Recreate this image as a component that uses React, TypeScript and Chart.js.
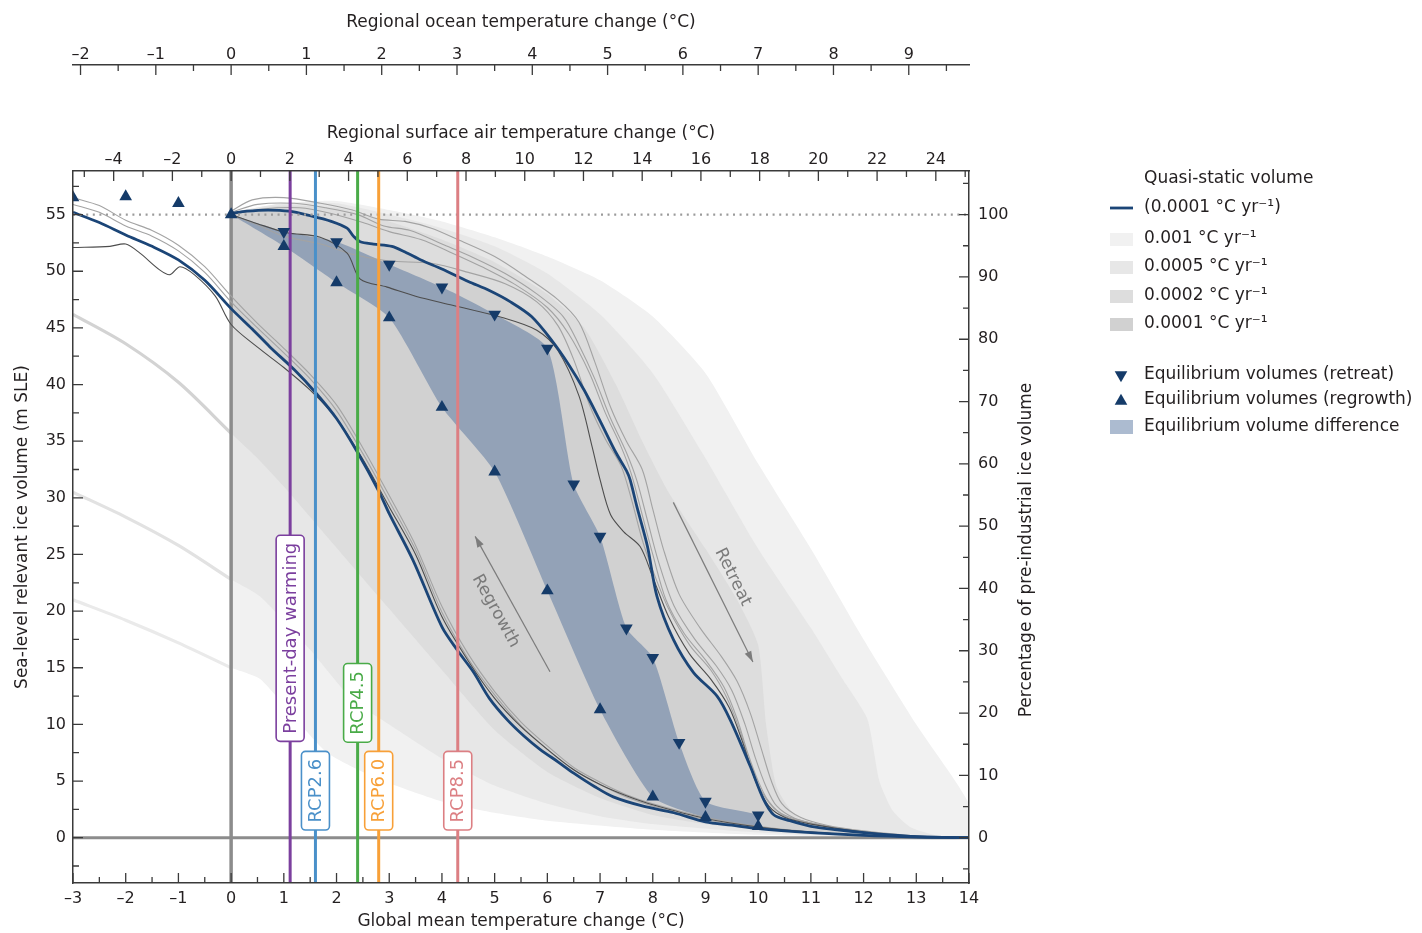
import React, { useEffect, useRef } from 'react';
import { Chart, registerables } from 'chart.js';

Chart.register(...registerables);

type P = [number, number];

const FONT = "'DejaVu Sans', 'Liberation Sans', Arial, sans-serif";
const INK = '#231f20';
const AXIS = '#3a3a3a';
const BLUE = '#1b4577';
const NAVY = '#153b69';

// ---------- tick labels ----------
const globalTicks = [-3, -2, -1, 0, 1, 2, 3, 4, 5, 6, 7, 8, 9, 10, 11, 12, 13, 14];
const airTicks = [-4, -2, 0, 2, 4, 6, 8, 10, 12, 14, 16, 18, 20, 22, 24];
const oceanTicks = [-2, -1, 0, 1, 2, 3, 4, 5, 6, 7, 8, 9];
const volumeTicks = [0, 5, 10, 15, 20, 25, 30, 35, 40, 45, 50, 55];
const percentTicks = [0, 10, 20, 30, 40, 50, 60, 70, 80, 90, 100];

const AIR_PER_GLOBAL = 1.795;
const OCEAN_PER_GLOBAL = 0.7;
const PRE_INDUSTRIAL_VOLUME = 55;
const X_MIN = -3, X_MAX = 14, Y_MIN = -4, Y_MAX = 58.85;

// ---------- scenarios ----------
const scenarioNames = ['Present-day warming', 'RCP2.6', 'RCP4.5', 'RCP6.0', 'RCP8.5'];
const scenarioTemps = [1.12, 1.6, 2.4, 2.8, 4.3];
const scenarioColors = ['#7b3f9e', '#4a90c9', '#4aab48', '#f8a038', '#dc7f83'];

// ---------- warming rates (legend / envelopes) ----------
const rateLabels = ['0.001', '0.0005', '0.0002', '0.0001'];
const rateColors = ['#f1f1f1', '#e7e7e7', '#dddddd', '#d1d1d1'];

// ---------- quasi-static volume, 0.0001 °C/yr ----------
const retreatQuasiStatic: P[] = [
  [0, 55.1], [0.3, 55.3], [0.7, 55.4], [1.1, 55.3], [1.5, 54.9], [1.9, 54.4], [2.2, 53.8], [2.32, 53.1],
  [2.45, 52.6], [2.7, 52.4], [3.05, 52.2], [3.3, 51.7], [3.6, 51.0], [4.0, 50.2], [4.5, 49.1], [4.9, 48.3],
  [5.3, 47.3], [5.7, 46.0], [6.1, 43.8], [6.4, 41.8], [6.7, 39.5], [7.0, 36.8], [7.3, 34.0], [7.5, 32.4],
  [7.57, 31.6], [7.7, 29.2], [7.9, 25.7], [8.08, 21.3], [8.39, 17.5], [8.77, 14.6], [9.22, 12.5], [9.47, 10.4],
  [9.85, 6.3], [10.1, 3.4], [10.3, 2.0], [10.6, 1.5], [11.0, 1.0], [11.5, 0.7], [12.0, 0.45], [12.5, 0.25],
  [13.0, 0.1], [13.5, 0.03], [14.0, 0],
];
const regrowthQuasiStatic: P[] = [
  [-3, 55.2], [-2.5, 54.3], [-2, 53.2], [-1.5, 52.2], [-1, 51.0], [-0.5, 49.2], [0, 46.7], [0.4, 44.9],
  [0.74, 43.3], [1.2, 41.3], [1.6, 39.3], [2.0, 37.0], [2.4, 34.0], [2.8, 30.6], [3.0, 28.6], [3.45, 24.5],
  [4.0, 18.6], [4.3, 16.5], [4.6, 14.6], [4.9, 12.3], [5.24, 10.4], [5.55, 9.0], [5.86, 7.8], [6.2, 6.7],
  [6.5, 5.7], [6.9, 4.5], [7.25, 3.6], [7.8, 2.8], [8.4, 2.2], [9.0, 1.4], [9.5, 1.1], [10, 0.8],
  [11, 0.45], [12, 0.2], [13, 0.06], [14, 0],
];

// ---------- individual ensemble members ----------
const retreatDark: P[] = [
  [0, 55.0], [0.5, 54.2], [1.06, 53.4], [1.69, 53.0], [2.2, 51.6], [2.45, 49.3], [2.96, 48.6], [3.5, 47.8],
  [4.2, 47.0], [5.16, 45.9], [5.8, 44.8], [6.2, 43.0], [6.6, 39.0], [6.85, 34.5], [7.0, 31.6], [7.2, 28.5],
  [7.45, 27.0], [7.76, 25.7], [8.0, 23.0], [8.3, 19.5], [8.7, 16.2], [9.1, 14.0], [9.45, 11.5], [9.7, 8.5],
  [9.95, 5.0], [10.2, 2.8], [10.5, 1.8], [11, 1.2], [12, 0.5], [13, 0.1], [14, 0],
];
const retreatMemberA: P[] = [
  [0, 55.3], [0.4, 56.3], [1.0, 56.5], [1.7, 56.0], [2.3, 55.4], [2.8, 54.6], [3.3, 54.4], [3.8, 53.8],
  [4.3, 52.8], [5.0, 51.3], [5.6, 49.5], [6.2, 47.5], [6.6, 45.5], [6.9, 42.0], [7.2, 38.0], [7.5, 35.0],
  [7.8, 32.5], [8.0, 29.0], [8.2, 25.5], [8.5, 21.5], [8.9, 18.5], [9.3, 16.0], [9.6, 13.8], [9.85, 11.0],
  [10.05, 8.0], [10.25, 5.0], [10.45, 3.0], [10.8, 1.8], [11.3, 1.1], [12, 0.6], [13, 0.15], [14, 0],
];
const retreatMemberB: P[] = [
  [0, 55.2], [0.5, 55.9], [1.2, 56.0], [1.8, 55.6], [2.4, 55.0], [2.9, 54.0], [3.4, 53.6], [4.0, 52.4],
  [4.6, 51.2], [5.2, 49.8], [5.8, 48.0], [6.3, 46.0], [6.6, 43.5], [6.9, 40.5], [7.2, 37.0], [7.5, 34.0],
  [7.7, 31.5], [7.9, 28.0], [8.1, 24.5], [8.4, 20.5], [8.8, 17.5], [9.2, 15.2], [9.5, 13.0], [9.75, 10.0],
  [9.95, 7.0], [10.15, 4.5], [10.35, 2.8], [10.7, 1.7], [11.2, 1.1], [12, 0.55], [13, 0.12], [14, 0],
];
const retreatMemberC: P[] = [
  [0, 55.0], [0.6, 55.5], [1.3, 55.6], [1.9, 55.1], [2.5, 54.3], [3.0, 53.5], [3.6, 52.8], [4.2, 51.6],
  [4.8, 50.3], [5.4, 48.8], [6.0, 46.8], [6.4, 44.5], [6.8, 41.0], [7.1, 37.5], [7.4, 34.5], [7.6, 32.0],
  [7.8, 28.5], [8.0, 25.0], [8.25, 21.0], [8.6, 18.0], [9.0, 15.7], [9.35, 13.3], [9.6, 10.5], [9.8, 7.5],
  [10.0, 5.0], [10.2, 3.2], [10.5, 1.9], [11.1, 1.2], [12, 0.5], [13, 0.1], [14, 0],
];
const retreatMemberD: P[] = [
  [0, 55.0], [0.5, 54.1], [1.0, 53.1], [1.7, 52.4], [2.3, 51.5], [3.0, 50.9], [3.8, 50.7], [4.5, 49.9],
  [5.2, 48.9], [5.8, 47.3], [6.2, 45.2], [6.5, 42.2], [6.8, 38.2], [7.1, 35.2], [7.4, 32.8], [7.6, 29.8],
  [7.8, 26.3], [8.0, 23.6], [8.3, 20.2], [8.7, 17.0], [9.1, 14.8], [9.4, 12.4], [9.65, 9.5], [9.85, 6.5],
  [10.05, 4.2], [10.3, 2.6], [10.6, 1.8], [11.2, 1.1], [12, 0.5], [13, 0.1], [14, 0],
];
const regrowthDark: P[] = [
  [-3, 52.1], [-2.3, 52.2], [-2.0, 52.4], [-1.73, 51.6], [-1.35, 50.1], [-1.16, 49.7], [-0.97, 50.4],
  [-0.7, 49.7], [-0.3, 47.8], [0, 45.3], [0.5, 43.3], [1, 41.5], [1.5, 39.5], [2, 37.0], [2.5, 33.4],
  [3, 29.2], [3.5, 25.0], [4, 19.5], [4.5, 15.6], [5, 12.3], [5.5, 9.8], [6, 7.8], [6.5, 6.0], [7, 4.7],
  [7.5, 3.7], [8, 2.9], [9, 1.7], [10, 0.95], [11, 0.5], [12, 0.22], [13, 0.06], [14, 0],
];
const regrowthMemberA: P[] = [
  [-3, 56.5], [-2.5, 55.8], [-2, 54.5], [-1.5, 53.6], [-1, 52.3], [-0.5, 50.4], [0, 47.8], [0.5, 45.4],
  [1, 43.2], [1.5, 40.9], [2, 38.2], [2.5, 34.4], [3, 30.2], [3.5, 25.8], [4, 20.4], [4.5, 16.2], [5, 12.9],
  [5.5, 10.2], [6, 8.1], [6.5, 6.2], [7, 4.9], [7.5, 3.8], [8, 3.0], [9, 1.8], [10, 1.0], [11, 0.5],
  [12, 0.22], [13, 0.06], [14, 0],
];
const regrowthMemberB: P[] = [
  [-3, 55.9], [-2.5, 55.2], [-2, 54.0], [-1.5, 53.1], [-1, 51.8], [-0.5, 49.9], [0, 47.3], [0.5, 45.0],
  [1, 42.8], [1.5, 40.5], [2, 37.7], [2.5, 33.9], [3, 29.7], [3.5, 25.4], [4, 19.9], [4.5, 15.8], [5, 12.6],
  [5.5, 9.9], [6, 7.8], [6.5, 6.0], [7, 4.7], [7.5, 3.6], [8, 2.8], [9, 1.6], [10, 0.9], [11, 0.47],
  [12, 0.2], [13, 0.05], [14, 0],
];

// ---------- envelopes of faster warming / cooling rates ----------
const retreatRate001: P[] = [
  [0, 55.2], [1, 56], [2, 56.2], [3, 55.4], [4, 54.4], [5, 53], [6, 51.3], [7, 49.2], [8, 46], [9, 41],
  [10, 33], [11, 25.5], [12, 17.5], [13, 10], [14, 3],
];
const regrowthRate001: P[] = [
  [-3, 21], [-2, 19.2], [-1, 17.2], [0, 15.0], [0.55, 14], [1.2, 10.6], [1.82, 7.5], [2.5, 5.8], [3, 4.8],
  [4, 3.2], [5, 2.2], [6, 1.5], [8, 0.7], [10, 0.25], [12, 0.06], [14, 0],
];
const retreatRate0005: P[] = [
  [0, 55.2], [1, 56], [2, 56], [3, 55], [4, 53.8], [5, 52.2], [6, 49.8], [7, 46.2], [8, 41], [9, 33.5],
  [10, 25.5], [11, 18.5], [11.6, 14], [12.07, 10.5], [12.3, 5], [12.55, 2.4], [12.9, 0.9], [13.4, 0.2], [14, 0],
];
const regrowthRate0005: P[] = [
  [-3, 30.5], [-2, 28.3], [-1, 25.8], [0, 22.8], [0.55, 21.3], [1.5, 16.6], [2.3, 12.2], [3, 10], [4, 7.0],
  [5, 4.6], [6, 3.0], [7, 1.9], [8, 1.2], [10, 0.45], [12, 0.1], [14, 0],
];
const retreatRate0002: P[] = [
  [0, 55.2], [1, 55.8], [2, 55.6], [3, 54.4], [4, 52.8], [5, 50.8], [6, 48], [6.7, 45], [7.3, 40], [7.8, 35],
  [8.3, 30.5], [9, 25.5], [9.6, 21], [10, 17], [10.15, 10], [10.35, 4.5], [10.7, 2], [11.3, 1], [12.3, 0.3],
  [13.5, 0],
];
const regrowthRate0002: P[] = [
  [-3, 46.2], [-2, 43.6], [-1, 40.2], [0, 35.7], [0.5, 33.5], [1, 31], [2, 25.6], [3, 20.2], [4, 14.8],
  [5, 9.5], [6, 5.8], [7, 3.5], [8, 2.0], [9, 1.2], [10, 0.7], [12, 0.2], [14, 0],
];

// ---------- equilibrium volumes ----------
const retreatEqTemp = [1, 2, 3, 4, 5, 6, 6.5, 7, 7.5, 8, 8.5, 9, 10];
const retreatEqVolume = [53.5, 52.6, 50.6, 48.6, 46.2, 43.2, 31.2, 26.6, 18.5, 15.9, 8.4, 3.2, 2.0];
const regrowthEqTemp = [-3, -2, -1, 0, 1, 2, 3, 4, 5, 6, 7, 8, 9, 10];
const regrowthEqVolume = [56.5, 56.6, 56.0, 55.0, 52.2, 49.0, 45.9, 38.0, 32.3, 21.8, 11.3, 3.6, 1.8, 1.0];

// ---------- helpers ----------
const xy = (a: P[]) => a.map(([x, y]) => ({ x, y }));
const zip = (xs: number[], ys: number[]): P[] => xs.map((x, i) => [x, ys[i]]);
const fmt = (v: number) => (v < 0 ? '\u2013' + Math.abs(v) : String(v));

const lineDs = (data: P[], color: string, width: number, order: number, extra: any = {}) => ({
  data: xy(data), borderColor: color, borderWidth: width, pointRadius: 0, fill: false,
  tension: 0.3, order, clip: 0, ...extra,
});
const shapeDs = (upper: P[], lower: P[], color: string, order: number) => ({
  data: xy([...upper, ...lower.filter((p) => p[0] >= 0).reverse()]),
  backgroundColor: color, borderColor: 'rgba(0,0,0,0)', borderWidth: 0, pointRadius: 0,
  fill: 'shape', tension: 0.2, order, clip: 0,
});

const equilibriumPolygon: P[] = [[0, 55], ...zip(retreatEqTemp, retreatEqVolume)];
const equilibriumLower: P[] = zip(regrowthEqTemp, regrowthEqVolume);
const TRI_R = 7.3;

const datasets: any[] = [
  // triangles
  {
    data: xy(zip(retreatEqTemp, retreatEqVolume)), showLine: false, pointStyle: 'triangle', pointRotation: 180,
    pointRadius: TRI_R, pointBackgroundColor: NAVY, pointBorderColor: NAVY, pointBorderWidth: 0, order: 0, clip: 0,
  },
  {
    data: xy(zip(regrowthEqTemp, regrowthEqVolume)), showLine: false, pointStyle: 'triangle',
    pointRadius: TRI_R, pointBackgroundColor: NAVY, pointBorderColor: NAVY, pointBorderWidth: 0, order: 0, clip: 0,
  },
  // scenario lines
  ...scenarioTemps.map((t, i) => lineDs([[t, Y_MIN - 5], [t, Y_MAX + 5]], scenarioColors[i], 3, 2, { tension: 0 })),
  // quasi-static
  lineDs(retreatQuasiStatic, BLUE, 2.8, 5),
  lineDs(regrowthQuasiStatic, BLUE, 2.8, 5),
  // pre-industrial dotted reference
  lineDs([[X_MIN, PRE_INDUSTRIAL_VOLUME], [X_MAX, PRE_INDUSTRIAL_VOLUME]], '#9b9b9b', 2.2, 4, { borderDash: [2, 4.6], tension: 0 }),
  // members
  lineDs(retreatDark, '#4d4d4d', 1.1, 6),
  lineDs(regrowthDark, '#4d4d4d', 1.1, 6),
  lineDs(retreatMemberA, '#a3a3a3', 1.1, 7),
  lineDs(retreatMemberB, '#a3a3a3', 1.1, 7),
  lineDs(retreatMemberC, '#a3a3a3', 1.1, 7),
  lineDs(retreatMemberD, '#a3a3a3', 1.1, 7),
  lineDs(regrowthMemberA, '#a3a3a3', 1.1, 7),
  lineDs(regrowthMemberB, '#a3a3a3', 1.1, 7),
  // zero lines
  lineDs([[0, Y_MIN - 5], [0, Y_MAX + 5]], '#8c8c8c', 3.5, 8, { tension: 0 }),
  lineDs([[X_MIN, 0], [X_MAX, 0]], '#8c8c8c', 3, 8, { tension: 0 }),
  // faster rate regrowth curves continued below pre-industrial temperature
  lineDs(regrowthRate0002.filter((p) => p[0] <= 0), '#d3d3d3', 3.2, 8.5),
  lineDs(regrowthRate0005.filter((p) => p[0] <= 0), '#e2e2e2', 3.2, 8.5),
  lineDs(regrowthRate001.filter((p) => p[0] <= 0), '#eaeaea', 3.2, 8.5),
  // equilibrium difference
  shapeDs(equilibriumPolygon, equilibriumLower, 'rgba(70,105,150,0.45)', 9),
  // envelopes
  shapeDs(retreatQuasiStatic, regrowthQuasiStatic, rateColors[3], 10),
  shapeDs(retreatRate0002, regrowthRate0002, rateColors[2], 11),
  shapeDs(retreatRate0005, regrowthRate0005, rateColors[1], 12),
  shapeDs(retreatRate001, regrowthRate001, rateColors[0], 13),
];

// annotation placement (data units)
const scenarioLabelCentre = [17.6, 4.15, 11.9, 4.15, 4.15];
const arrowRegrowth = { from: [6.05, 14.65], to: [4.63, 26.6], text: [5.02, 20.0], label: 'Regrowth' };
const arrowRetreat = { from: [8.39, 29.6], to: [9.9, 15.5], text: [9.52, 23.0], label: 'Retreat' };

function drawTri(ctx: CanvasRenderingContext2D, x: number, y: number, r: number, down: boolean) {
  ctx.beginPath();
  const s = down ? -1 : 1;
  ctx.moveTo(x, y - s * r);
  ctx.lineTo(x + r * 0.866, y + s * r / 2);
  ctx.lineTo(x - r * 0.866, y + s * r / 2);
  ctx.closePath();
  ctx.fill();
}

const decorations = {
  id: 'decorations',
  afterDatasetsDraw(chart: any) {
    const { ctx, scales } = chart;
    const xs = scales.x, ys = scales.y;
    ctx.save();
    // arrows
    [arrowRegrowth, arrowRetreat].forEach((a) => {
      const x1 = xs.getPixelForValue(a.from[0]), y1 = ys.getPixelForValue(a.from[1]);
      const x2 = xs.getPixelForValue(a.to[0]), y2 = ys.getPixelForValue(a.to[1]);
      ctx.strokeStyle = '#7c7c7c'; ctx.fillStyle = '#7c7c7c'; ctx.lineWidth = 1.2;
      ctx.beginPath(); ctx.moveTo(x1, y1); ctx.lineTo(x2, y2); ctx.stroke();
      const ang = Math.atan2(y2 - y1, x2 - x1), L = 11, W = 3.6;
      ctx.beginPath();
      ctx.moveTo(x2, y2);
      ctx.lineTo(x2 - L * Math.cos(ang) + W * Math.sin(ang), y2 - L * Math.sin(ang) - W * Math.cos(ang));
      ctx.lineTo(x2 - L * Math.cos(ang) - W * Math.sin(ang), y2 - L * Math.sin(ang) + W * Math.cos(ang));
      ctx.closePath(); ctx.fill();
      const down = Math.atan2(Math.abs(y2 - y1), Math.abs(x2 - x1));
      ctx.save();
      ctx.translate(xs.getPixelForValue(a.text[0]), ys.getPixelForValue(a.text[1]));
      ctx.rotate(down);
      ctx.font = `17px ${FONT}`;
      ctx.fillStyle = '#7a7a7a'; ctx.textAlign = 'center'; ctx.textBaseline = 'middle';
      ctx.fillText(a.label, 0, 0);
      ctx.restore();
    });
    // scenario labels
    scenarioNames.forEach((name, i) => {
      const px = xs.getPixelForValue(scenarioTemps[i]);
      const py = ys.getPixelForValue(scenarioLabelCentre[i]);
      ctx.font = `18px ${FONT}`;
      const tw = ctx.measureText(name).width;
      const h = tw + 15, w = 28;
      ctx.beginPath();
      ctx.roundRect(px - w / 2, py - h / 2, w, h, 4);
      ctx.fillStyle = '#ffffff'; ctx.fill();
      ctx.strokeStyle = scenarioColors[i]; ctx.lineWidth = 1.6; ctx.stroke();
      ctx.save();
      ctx.translate(px + 1, py);
      ctx.rotate(-Math.PI / 2);
      ctx.fillStyle = scenarioColors[i]; ctx.textAlign = 'center'; ctx.textBaseline = 'middle';
      ctx.fillText(name, 0, 0);
      ctx.restore();
    });
    ctx.restore();
  },
  afterDraw(chart: any) {
    const { ctx, chartArea: ca, scales } = chart;
    ctx.save();
    // inner tick marks
    ctx.strokeStyle = AXIS; ctx.lineWidth = 1.3;
    ctx.beginPath();
    for (let v = X_MIN; v <= X_MAX + 1e-9; v += 0.5) {
      const p = scales.x.getPixelForValue(v); const L = Number.isInteger(v) ? 10 : 6;
      ctx.moveTo(p, ca.bottom); ctx.lineTo(p, ca.bottom - L);
    }
    for (let v = -5; v <= 25; v += 1) {
      const p = scales.xAir.getPixelForValue(v); const L = v % 2 === 0 ? 10 : 6;
      ctx.moveTo(p, ca.top); ctx.lineTo(p, ca.top + L);
    }
    const ob = scales.xOcean.bottom;
    for (let v = -2; v <= 9.5 + 1e-9; v += 0.5) {
      const p = scales.xOcean.getPixelForValue(v); const L = Number.isInteger(v) ? 10 : 6;
      ctx.moveTo(p, ob); ctx.lineTo(p, ob + L);
    }
    for (let v = -2.5; v <= 57.5 + 1e-9; v += 2.5) {
      const p = scales.y.getPixelForValue(v); const L = v % 5 === 0 ? 10 : 6;
      ctx.moveTo(ca.left, p); ctx.lineTo(ca.left + L, p);
    }
    for (let v = -5; v <= 105; v += 5) {
      const p = scales.y2.getPixelForValue(v); const L = v % 10 === 0 ? 10 : 6;
      ctx.moveTo(ca.right, p); ctx.lineTo(ca.right - L, p);
    }
    ctx.stroke();

    // right axis title (reads bottom to top)
    ctx.save();
    ctx.translate(ca.right + 58, (ca.top + ca.bottom) / 2 + 23);
    ctx.rotate(-Math.PI / 2);
    ctx.font = `17px ${FONT}`; ctx.fillStyle = INK; ctx.textAlign = 'center'; ctx.textBaseline = 'middle';
    ctx.fillText('Percentage of pre-industrial ice volume', 0, 0);
    ctx.restore();

    // legend
    const sx = ca.right + 141, tx = ca.right + 175, t0 = ca.top + 2;
    ctx.font = `17px ${FONT}`; ctx.fillStyle = INK; ctx.textAlign = 'left'; ctx.textBaseline = 'middle';
    ctx.fillText('Quasi-static volume', tx, t0 + 6);
    ctx.strokeStyle = BLUE; ctx.lineWidth = 2.8;
    ctx.beginPath(); ctx.moveTo(sx, t0 + 35); ctx.lineTo(sx + 23, t0 + 35); ctx.stroke();
    ctx.fillStyle = INK;
    ctx.fillText('(0.0001 \u00b0C yr\u207b\u00b9)', tx, t0 + 35);
    const rowY = [66, 94, 123, 151];
    rateLabels.forEach((r, i) => {
      ctx.fillStyle = rateColors[i];
      ctx.fillRect(sx, t0 + rowY[i] - 6, 23, 13);
      ctx.fillStyle = INK;
      ctx.fillText(`${r} \u00b0C yr\u207b\u00b9`, tx, t0 + rowY[i]);
    });
    ctx.fillStyle = NAVY;
    drawTri(ctx, sx + 11, t0 + 202, TRI_R, true);
    drawTri(ctx, sx + 11, t0 + 228, TRI_R, false);
    ctx.fillStyle = 'rgba(70,105,150,0.45)';
    ctx.fillRect(sx, t0 + 247, 23, 14);
    ctx.fillStyle = INK;
    ctx.fillText('Equilibrium volumes (retreat)', tx, t0 + 202);
    ctx.fillText('Equilibrium volumes (regrowth)', tx, t0 + 227);
    ctx.fillText('Equilibrium volume difference', tx, t0 + 254);
    ctx.restore();
  },
};

const tickFont = { family: FONT, size: 16 };
const titleFont = { family: FONT, size: 17 };
const border = { display: true, color: AXIS, width: 1.5, z: 1 };
const noGrid = { display: false, drawTicks: false };
const setTicks = (vals: number[]) => (s: any) => { s.ticks = vals.map((v) => ({ value: v })); };

const config: any = {
  type: 'line',
  data: { datasets },
  plugins: [decorations],
  options: {
    animation: false,
    responsive: true,
    maintainAspectRatio: false,
    events: [],
    layout: { padding: { left: 0, right: 333, top: 0, bottom: 0 } },
    plugins: { legend: { display: false }, tooltip: { enabled: false } },
    scales: {
      x: {
        type: 'linear', position: 'bottom', min: X_MIN, max: X_MAX, grid: noGrid, border,
        ticks: { font: tickFont, color: INK, padding: 6, autoSkip: false, maxRotation: 0, callback: fmt },
        afterBuildTicks: setTicks(globalTicks),
        afterFit: (s: any) => { s.height = 50; },
        title: { display: true, text: 'Global mean temperature change (\u00b0C)', font: titleFont, color: INK, padding: { top: 0, bottom: 1 } },
      },
      xAir: {
        type: 'linear', position: 'top', weight: 0,
        min: X_MIN * AIR_PER_GLOBAL, max: X_MAX * AIR_PER_GLOBAL, grid: noGrid, border,
        ticks: { font: tickFont, color: INK, padding: 2, autoSkip: false, maxRotation: 0, callback: fmt },
        afterBuildTicks: setTicks(airTicks),
        afterFit: (s: any) => { s.height = 106; },
        title: { display: true, text: 'Regional surface air temperature change (\u00b0C)', font: titleFont, color: INK, padding: { top: 58, bottom: 0 } },
      },
      xOcean: {
        type: 'linear', position: 'top', weight: 1,
        min: X_MIN * OCEAN_PER_GLOBAL, max: X_MAX * OCEAN_PER_GLOBAL, grid: noGrid,
        border: { display: true, color: AXIS, width: 1.5 },
        ticks: { font: tickFont, color: INK, padding: 1, autoSkip: false, maxRotation: 0, callback: fmt },
        afterBuildTicks: setTicks(oceanTicks),
        afterFit: (s: any) => { s.height = 65; },
        title: { display: true, text: 'Regional ocean temperature change (\u00b0C)', font: titleFont, color: INK, padding: { top: 12, bottom: 0 } },
      },
      y: {
        type: 'linear', position: 'left', min: Y_MIN, max: Y_MAX, grid: noGrid, border,
        ticks: { font: tickFont, color: INK, padding: 7, autoSkip: false, callback: fmt },
        afterBuildTicks: setTicks(volumeTicks),
        afterFit: (s: any) => { s.width = 73; },
        title: { display: true, text: 'Sea-level relevant ice volume (m SLE)', font: titleFont, color: INK, padding: { top: 12, bottom: 0 } },
      },
      y2: {
        type: 'linear', position: 'right',
        min: (Y_MIN / PRE_INDUSTRIAL_VOLUME) * 100, max: (Y_MAX / PRE_INDUSTRIAL_VOLUME) * 100,
        grid: noGrid, border,
        ticks: { font: tickFont, color: INK, padding: 9, autoSkip: false, callback: fmt },
        afterBuildTicks: setTicks(percentTicks),
        afterFit: (s: any) => { s.width = 120; },
        title: { display: false },
      },
    },
  },
};

export default function App() {
  const ref = useRef<HTMLCanvasElement>(null);
  useEffect(() => {
    const chart = new Chart(ref.current as HTMLCanvasElement, config);
    return () => chart.destroy();
  }, []);
  return (
    <div style={{ position: 'fixed', left: 0, top: 0, width: 1422, height: 933, background: '#ffffff' }}>
      <canvas ref={ref} />
    </div>
  );
}
